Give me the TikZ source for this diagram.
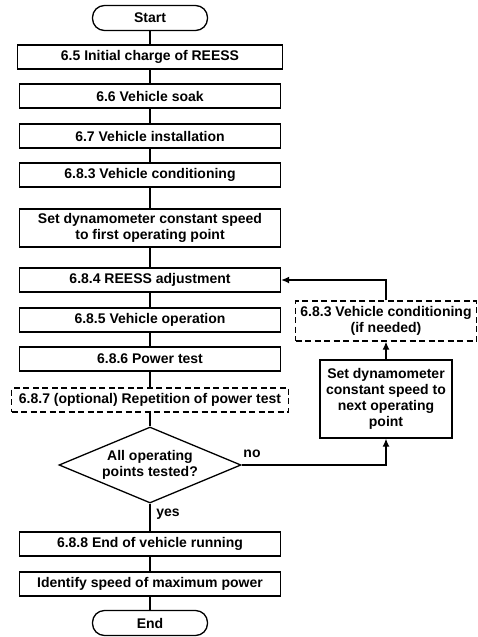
\documentclass[tikz,border=0pt]{standalone}
\usepackage{fontspec}
\setmainfont{Liberation Sans}
\usetikzlibrary{shapes.geometric,arrows.meta}

\begin{document}
\begin{tikzpicture}[x=1pt,y=1pt,
		font=\fontsize{14}{16}\selectfont\bfseries,
		every path/.style={line width=1.3pt},
		stepbox/.style={draw, rectangle, minimum width=261pt, minimum height=24pt, inner sep=1pt, align=center},
		optbox/.style={stepbox, dash pattern=on 6pt off 3.5pt},
		term/.style={draw, rectangle, rounded corners=12pt, minimum width=115pt, minimum height=25pt},
		choice/.style={draw, diamond, aspect=2.4, inner sep=0pt, minimum width=182pt, minimum height=76pt, align=center},
		tip/.style={-{Latex[length=8pt,width=7pt]}}]
				\useasboundingbox (0,0) rectangle (477,-637);
				\node[term] (start) at (150,-18) {Start};
				\node[stepbox, minimum width=265pt] (charge) at (150,-57) {6.5 Initial charge of REESS};
				\node[stepbox] (soak) at (150,-96) {6.6 Vehicle soak};
				\node[stepbox] (install) at (150,-136) {6.7 Vehicle installation};
				\node[stepbox] (cond) at (150,-175) {6.8.3 Vehicle conditioning};
				\node[stepbox, minimum height=38pt] (first) at (150,-228) {Set dynamometer constant speed\\to first operating point};
				\node[stepbox] (adjust) at (150,-280) {6.8.4 REESS adjustment};
				\node[stepbox] (oper) at (150,-320) {6.8.5 Vehicle operation};
				\node[stepbox] (power) at (150,-359) {6.8.6 Power test};
				\node[optbox, minimum width=277pt] (repeat) at (150,-400) {6.8.7 (optional) Repetition of power test};
				\node[choice] (tested) at (150,-465) {All operating\\points tested?};
				\node[stepbox] (running) at (150,-544) {6.8.8 End of vehicle running};
				\node[stepbox] (maxpow) at (150,-584) {Identify speed of maximum power};
				\node[term] (end) at (150,-623) {End};
				\node[stepbox, minimum width=132pt, minimum height=78pt] (next) at (386,-399) {Set dynamometer\\constant speed to\\next operating\\point};
				\node[optbox, minimum width=181pt, minimum height=40pt] (recond) at (386,-321) {6.8.3 Vehicle conditioning\\(if needed)};
				\draw (start) -- (charge) -- (soak) -- (install) -- (cond) -- (first) -- (adjust) -- (oper) -- (power) -- (repeat) -- (tested.north);
				\draw (tested.south) -- (running) -- (maxpow) -- (end);
				\draw[tip] (tested.east) -| (next.south);
				\draw[tip] (next) -- (recond);
				\draw[tip] (recond.north) |- (adjust.east);
				\node (nolbl) at (252,-454) {no};
				\node (yeslbl) at (168,-514) {yes};
			\end{tikzpicture}
\end{document}
